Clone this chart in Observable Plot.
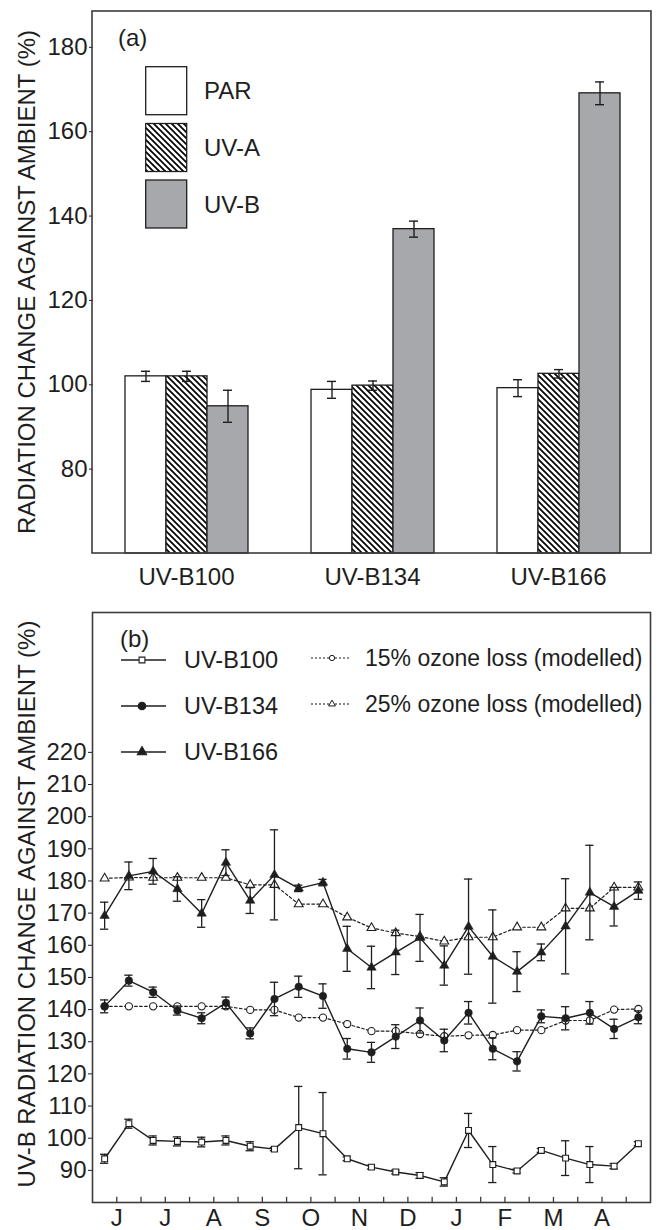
<!DOCTYPE html>
<html><head><meta charset="utf-8">
<script src="https://cdn.jsdelivr.net/npm/d3@7"></script>
<script src="https://cdn.jsdelivr.net/npm/@observablehq/plot@0.6"></script>
<style>
body{margin:0;background:#fff;}
#wrap{position:relative;width:658px;height:1230px;font-family:"Liberation Sans",Arial,Helvetica,sans-serif;color:#222;overflow:hidden;}
#wrap > svg{display:block;}
#ov{position:absolute;left:0;top:0;pointer-events:none;}
</style></head><body><div id="wrap"></div>
<script>
// ---------- Panel (a) data ----------
const groupsA = ["UV-B100", "UV-B134", "UV-B166"];
const seriesA = ["PAR", "UV-A", "UV-B"];
const parVals = [102.0, 98.8, 99.2];
const parErr  = [1.2, 2.0, 2.0];
const uvaVals = [102.0, 99.8, 102.6];
const uvaErr  = [1.2, 1.1, 1.0];
const uvbVals = [94.9, 136.9, 169.1];
const uvbErr  = [3.8, 1.9, 2.7];
const yTicksA = [80, 100, 120, 140, 160, 180];
const yDomainA = [60, 188.5];

// ---------- Panel (b) data (semi-monthly, late May .. late April) ----------
const monthLabels = ["J", "J", "A", "S", "O", "N", "D", "J", "F", "M", "A"];
const ub100    = [93.6, 104.5, 99.3, 99.0, 98.8, 99.3, 97.5, 96.6, 103.3, 101.4, 93.6, 91.0, 89.5, 88.4, 86.4, 102.4, 91.8, 89.8, 96.2, 93.8, 91.8, 91.3, 98.3];
const ub100Err = [1.4, 1.4, 1.4, 1.4, 1.5, 1.4, 1.4, 0.5, 12.8, 12.8, 0.6, 0.6, 0.6, 0.9, 1.3, 5.3, 5.6, 0.6, 0.6, 5.4, 5.6, 0.8, 0.6];
const ub134    = [141.0, 149.0, 145.4, 139.7, 137.3, 142.1, 132.6, 143.3, 147.1, 144.2, 127.8, 126.7, 131.6, 136.6, 130.4, 139.0, 127.8, 123.9, 137.9, 137.3, 139.0, 134.0, 137.6];
const ub134Err = [2.0, 1.7, 1.6, 1.4, 1.7, 1.8, 1.7, 5.2, 3.3, 3.8, 3.2, 3.1, 3.7, 3.9, 3.5, 3.5, 3.4, 3.0, 2.0, 3.6, 3.5, 3.0, 2.0];
const ub166    = [169.2, 181.6, 183.0, 177.5, 169.9, 185.7, 173.9, 181.9, 177.7, 179.5, 158.9, 153.1, 157.8, 162.3, 153.7, 165.8, 156.5, 151.8, 157.8, 165.9, 176.4, 172.0, 177.0];
const ub166Err = [4.2, 4.3, 4.0, 3.8, 4.3, 4.0, 4.0, 14.0, 1.0, 1.0, 7.0, 6.6, 6.9, 7.3, 6.1, 14.8, 14.5, 6.2, 2.6, 14.8, 14.7, 6.0, 2.7];
const oz15     = [141.0, 141.0, 141.0, 141.0, 141.0, 141.0, 139.9, 139.9, 137.5, 137.5, 135.5, 133.3, 133.3, 132.4, 131.7, 132.0, 132.1, 133.6, 133.6, 136.6, 136.6, 140.0, 140.2];
const oz25     = [180.8, 181.1, 181.0, 181.0, 181.0, 181.0, 178.8, 178.8, 172.8, 172.8, 168.7, 165.4, 163.8, 162.7, 161.2, 162.5, 162.5, 165.6, 165.6, 171.5, 171.5, 178.0, 178.0];
const yTicksB = [90, 100, 110, 120, 130, 140, 150, 160, 170, 180, 190, 200, 210, 220];
const yDomainB = [80, 263.5];

const FONT = '"Liberation Sans", Arial, Helvetica, sans-serif';
const INK = "#1e1e1e";
const FRAME = "#3c3c3c";
const GRAY = "#a7a8ab";

// ---------- build panel (a) ----------
const valsBySeries = {"PAR": [parVals, parErr], "UV-A": [uvaVals, uvaErr], "UV-B": [uvbVals, uvbErr]};
const rowsA = [];
groupsA.forEach((g, gi) => seriesA.forEach(s => rowsA.push({group: g, series: s, value: valsBySeries[s][0][gi], err: valsBySeries[s][1][gi]})));

const WA = 658, HA = 600, mA = {l: 92, r: 7, t: 11, b: 47};
const plotA = Plot.plot({
  width: WA, height: HA,
  marginLeft: mA.l, marginRight: mA.r, marginTop: mA.t, marginBottom: mA.b,
  style: {fontFamily: FONT, fontSize: "24px", color: INK, background: "white", overflow: "visible"},
  facet: {data: rowsA, x: "group", marginBottom: mA.b},
  fx: {domain: groupsA, padding: 0, axis: "bottom", tickSize: 0, tickPadding: 14, label: null},
  x: {domain: seriesA, paddingInner: 0, paddingOuter: 0.75, axis: null},
  y: {domain: yDomainA, ticks: yTicksA, tickSize: 4, tickPadding: 2, label: null},
  marks: [
    Plot.barY(rowsA, {filter: d => d.series === "PAR", x: "series", y1: yDomainA[0], y2: "value", fill: "white", stroke: INK, strokeWidth: 1.3}),
    Plot.barY(rowsA, {filter: d => d.series === "UV-A", x: "series", y1: yDomainA[0], y2: "value", fill: "url(#hatchA)", stroke: INK, strokeWidth: 1.3}),
    Plot.barY(rowsA, {filter: d => d.series === "UV-B", x: "series", y1: yDomainA[0], y2: "value", fill: GRAY, stroke: INK, strokeWidth: 1.3}),
    Plot.ruleX(rowsA, {x: "series", y1: d => d.value - d.err, y2: d => d.value + d.err, stroke: INK, strokeWidth: 1.4}),
    Plot.tickY(rowsA, {x: "series", y: d => d.value + d.err, insetLeft: 16, insetRight: 16, stroke: INK, strokeWidth: 1.4}),
    Plot.tickY(rowsA, {x: "series", y: d => d.value - d.err, insetLeft: 16, insetRight: 16, stroke: INK, strokeWidth: 1.4})
  ]
});
const svgA = d3.select(plotA);
const defsA = svgA.insert("defs", ":first-child");
function addHatch(defs, id) {
  const p = defs.append("pattern").attr("id", id).attr("patternUnits", "userSpaceOnUse").attr("width", 6).attr("height", 6);
  p.append("rect").attr("width", 6).attr("height", 6).attr("fill", "white");
  p.append("path").attr("d", "M0,0L6,6M-1,5L1,7M5,-1L7,1").attr("stroke", "#000").attr("stroke-width", 1.7);
}
addHatch(defsA, "hatchA");
svgA.append("rect").attr("x", mA.l).attr("y", mA.t).attr("width", WA - mA.l - mA.r).attr("height", HA - mA.t - mA.b)
  .attr("fill", "none").attr("stroke", FRAME).attr("stroke-width", 1.6);

// ---------- build panel (b) ----------
const idx = d3.range(ub100.length);
const mk = (vals, errs) => idx.map(i => ({i, v: vals[i], e: errs ? errs[i] : 0}));
const r100 = mk(ub100, ub100Err), r134 = mk(ub134, ub134Err), r166 = mk(ub166, ub166Err);
const r15 = mk(oz15), r25 = mk(oz25);
const errRows = [...r100, ...r134, ...r166];
const minorTicks = d3.range(0, 22).map(k => k + 0.5);
const labelTicks = monthLabels.map((m, k) => 2 * k + 0.5);
const capHalf = 0.17;

const WB = 658, HB = 630, mB = {l: 92, r: 8, t: 12, b: 28};
const solid = {x: "i", y: "v", stroke: INK, strokeWidth: 1.4};
const dotted = {x: "i", y: "v", stroke: INK, strokeWidth: 1.2, strokeDasharray: "2.6,2.4"};
const plotB = Plot.plot({
  width: WB, height: HB,
  marginLeft: mB.l, marginRight: mB.r, marginTop: mB.t, marginBottom: mB.b,
  style: {fontFamily: FONT, fontSize: "24px", color: INK, background: "white", overflow: "visible"},
  x: {domain: [-0.5, 22.5], ticks: labelTicks, tickFormat: d => monthLabels[Math.round((d - 0.5) / 2)], tickSize: 0, tickPadding: 6, label: null},
  y: {domain: yDomainB, ticks: yTicksB, tickSize: 4, tickPadding: 2, label: null},
  marks: [
    Plot.ruleX(minorTicks, {x: d => d, y1: yDomainB[0], y2: yDomainB[0] + 1.6, stroke: FRAME, strokeWidth: 1.3}),
    Plot.line(r25, dotted),
    Plot.line(r15, dotted),
    Plot.dot(r25, {x: "i", y: "v", symbol: "triangle", r: 3.3, fill: "white", stroke: INK, strokeWidth: 1.1}),
    Plot.dot(r15, {x: "i", y: "v", symbol: "circle", r: 3.6, fill: "white", stroke: INK, strokeWidth: 1.1}),
    Plot.line(r100, solid),
    Plot.line(r134, solid),
    Plot.line(r166, solid),
    Plot.ruleX(errRows, {x: "i", y1: d => d.v - d.e, y2: d => d.v + d.e, stroke: INK, strokeWidth: 1.3}),
    Plot.ruleY(errRows, {x1: d => d.i - capHalf, x2: d => d.i + capHalf, y: d => d.v + d.e, stroke: INK, strokeWidth: 1.3}),
    Plot.ruleY(errRows, {x1: d => d.i - capHalf, x2: d => d.i + capHalf, y: d => d.v - d.e, stroke: INK, strokeWidth: 1.3}),
    Plot.dot(r100, {x: "i", y: "v", symbol: "square", r: 3.3, fill: "white", stroke: INK, strokeWidth: 1.1}),
    Plot.dot(r134, {x: "i", y: "v", symbol: "circle", r: 3.8, fill: INK, stroke: INK, strokeWidth: 0.5}),
    Plot.dot(r166, {x: "i", y: "v", symbol: "triangle", r: 3.5, fill: INK, stroke: INK, strokeWidth: 0.5}),
    Plot.frame({stroke: FRAME, strokeWidth: 1.6})
  ]
});

const wrap = document.getElementById("wrap");
wrap.appendChild(plotA);
wrap.appendChild(plotB);

// ---------- overlay: axis titles, panel letters, legends ----------
const ov = d3.select(wrap).append("svg").attr("id", "ov").attr("width", 658).attr("height", 1230)
  .style("font-family", FONT).style("fill", INK);
addHatch(ov.append("defs"), "hatchL");

ov.append("text").attr("transform", "translate(26,282) rotate(-90)").attr("text-anchor", "middle").attr("dy", "0.36em")
  .style("font-size", "24px").text("RADIATION CHANGE AGAINST AMBIENT (%)");
ov.append("text").attr("transform", "translate(26,904) rotate(-90)").attr("text-anchor", "middle").attr("dy", "0.36em")
  .style("font-size", "24px").text("UV-B RADIATION CHANGE AGAINST AMBIENT (%)");

// panel (a) legend
ov.append("text").attr("x", 118).attr("y", 37).attr("dy", "0.36em").style("font-size", "24px").text("(a)");
const legA = [{label: "PAR", fill: "white", y: 66.7}, {label: "UV-A", fill: "url(#hatchL)", y: 123.5}, {label: "UV-B", fill: GRAY, y: 180}];
legA.forEach(d => {
  ov.append("rect").attr("x", 145.7).attr("y", d.y).attr("width", 41).attr("height", 48).attr("fill", d.fill).attr("stroke", INK).attr("stroke-width", 1.3);
  ov.append("text").attr("x", 204).attr("y", d.y + 24).attr("dy", "0.36em").style("font-size", "24px").text(d.label);
});

// panel (b) legend
ov.append("text").attr("x", 120).attr("y", 638).attr("dy", "0.36em").style("font-size", "24px").text("(b)");
const symSquare = d3.symbol(d3.symbolSquare, 34)(), symCircle = d3.symbol(d3.symbolCircle, 45)(), symTri = d3.symbol(d3.symbolTriangle, 38)();
const legB = [
  {label: "UV-B100", y: 660, sym: symSquare, fill: "white"},
  {label: "UV-B134", y: 706, sym: symCircle, fill: INK},
  {label: "UV-B166", y: 752, sym: symTri, fill: INK}
];
legB.forEach(d => {
  ov.append("line").attr("x1", 121).attr("x2", 166).attr("y1", d.y).attr("y2", d.y).attr("stroke", INK).attr("stroke-width", 1.4);
  ov.append("path").attr("d", d.sym).attr("transform", `translate(142,${d.y})`).attr("fill", d.fill).attr("stroke", INK).attr("stroke-width", 1.1);
  ov.append("text").attr("x", 184).attr("y", d.y).attr("dy", "0.36em").style("font-size", "23.5px").text(d.label);
});
const legB2 = [
  {label: "15% ozone loss (modelled)", y: 658, sym: d3.symbol(d3.symbolCircle, 22)()},
  {label: "25% ozone loss (modelled)", y: 704, sym: d3.symbol(d3.symbolTriangle, 20)()}
];
legB2.forEach(d => {
  ov.append("line").attr("x1", 311).attr("x2", 351).attr("y1", d.y).attr("y2", d.y).attr("stroke", INK).attr("stroke-width", 1.1).attr("stroke-dasharray", "2,2");
  ov.append("path").attr("d", d.sym).attr("transform", `translate(332,${d.y})`).attr("fill", "white").attr("stroke", INK).attr("stroke-width", 1);
  ov.append("text").attr("x", 365).attr("y", d.y).attr("dy", "0.36em").style("font-size", "23px").text(d.label);
});
</script></body></html>
